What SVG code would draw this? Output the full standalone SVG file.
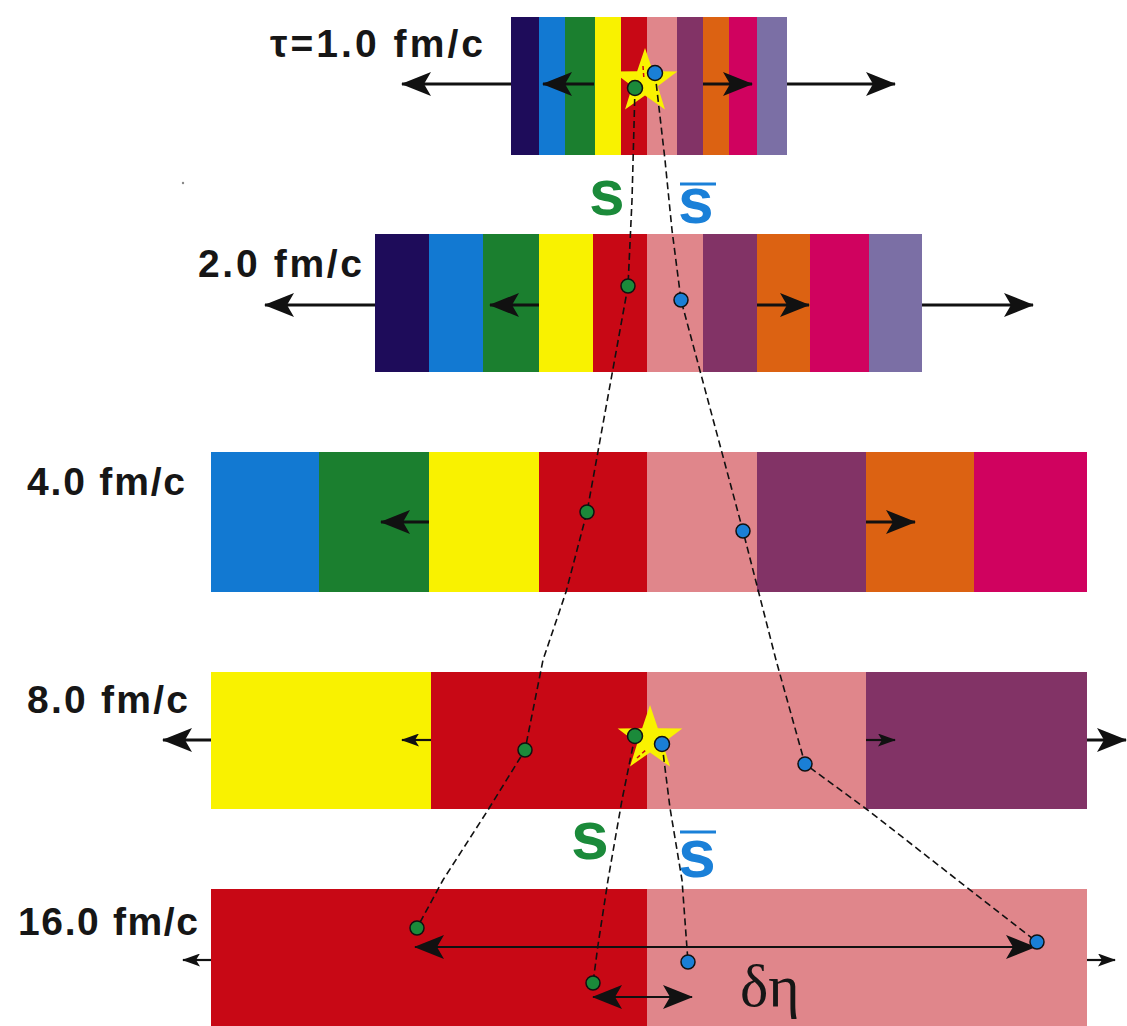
<svg xmlns="http://www.w3.org/2000/svg" width="1127" height="1026" viewBox="0 0 1127 1026">
<style>
.lbl{font-family:"Liberation Sans",Arial,sans-serif;font-size:39px;font-weight:bold;fill:#161616;}
.sg{font-family:"Liberation Sans",Arial,sans-serif;font-weight:bold;fill:#1b8a3a;}
.sb{font-family:"Liberation Sans",Arial,sans-serif;font-weight:bold;fill:#1a80d8;}
.arr{stroke:#111;stroke-width:3;fill:none;}
.arrt{stroke:#111;stroke-width:2.2;fill:none;}
.traj{stroke:#111;stroke-width:1.6;fill:none;stroke-dasharray:7 4;}
.dg{fill:#1b8a3a;stroke:#111;stroke-width:1.5;}
.db{fill:#1a7fd6;stroke:#111;stroke-width:1.5;}
.navy{fill:#1e0c5a}.blue{fill:#1279d2}.green{fill:#1b7f2f}.yellow{fill:#f9f200}
.red{fill:#c80815}.pink{fill:#e0868b}.purple{fill:#823366}.orange{fill:#dc6212}
.magenta{fill:#d0025f}.lav{fill:#7b6fa5}
</style>
<defs>
<marker id="ah" markerUnits="userSpaceOnUse" markerWidth="30" markerHeight="24" viewBox="0 0 30 24" refX="29" refY="12" orient="auto-start-reverse">
<path d="M0,0 L30,12 L0,24 L7,12 Z" fill="#111"/>
</marker>
<marker id="as" markerUnits="userSpaceOnUse" markerWidth="18" markerHeight="13" viewBox="0 0 18 13" refX="17" refY="6.5" orient="auto-start-reverse">
<path d="M0,0 L18,6.5 L0,13 L4,6.5 Z" fill="#111"/>
</marker>
<path id="star" d="M0,-34 L7.87,-10.84 L32.34,-10.51 L12.73,4.14 L19.98,27.5 L0,13.4 L-19.98,27.5 L-12.73,4.14 L-32.34,-10.51 L-7.87,-10.84 Z" fill="#f9f200"/>
</defs>

<g id="row1">
<rect class="navy" x="511" y="17" width="28" height="138"/>
<rect class="blue" x="539" y="17" width="26" height="138"/>
<rect class="green" x="565" y="17" width="30" height="138"/>
<rect class="yellow" x="595" y="17" width="26" height="138"/>
<rect class="red" x="621" y="17" width="26" height="138"/>
<rect class="pink" x="647" y="17" width="30" height="138"/>
<rect class="purple" x="677" y="17" width="26" height="138"/>
<rect class="orange" x="703" y="17" width="26" height="138"/>
<rect class="magenta" x="729" y="17" width="28" height="138"/>
<rect class="lav" x="757" y="17" width="30" height="138"/>
<text class="lbl" x="270" y="57" textLength="213">τ=1.0 fm/c</text>
</g>

<g id="row2">
<rect class="navy" x="375" y="234" width="54" height="138"/>
<rect class="blue" x="429" y="234" width="54" height="138"/>
<rect class="green" x="483" y="234" width="56" height="138"/>
<rect class="yellow" x="539" y="234" width="54" height="138"/>
<rect class="red" x="593" y="234" width="54" height="138"/>
<rect class="pink" x="647" y="234" width="56" height="138"/>
<rect class="purple" x="703" y="234" width="54" height="138"/>
<rect class="orange" x="757" y="234" width="53" height="138"/>
<rect class="magenta" x="810" y="234" width="59" height="138"/>
<rect class="lav" x="869" y="234" width="53" height="138"/>
<text class="lbl" x="198" y="277" textLength="164">2.0 fm/c</text>
</g>

<g id="row3">
<rect class="blue" x="211" y="452" width="108" height="140"/>
<rect class="green" x="319" y="452" width="110" height="140"/>
<rect class="yellow" x="429" y="452" width="110" height="140"/>
<rect class="red" x="539" y="452" width="108" height="140"/>
<rect class="pink" x="647" y="452" width="110" height="140"/>
<rect class="purple" x="757" y="452" width="109" height="140"/>
<rect class="orange" x="866" y="452" width="108" height="140"/>
<rect class="magenta" x="974" y="452" width="113" height="140"/>
<text class="lbl" x="27" y="495" textLength="158">4.0 fm/c</text>
</g>

<g id="row4">
<rect class="yellow" x="211" y="672" width="220" height="137"/>
<rect class="red" x="431" y="672" width="216" height="137"/>
<rect class="pink" x="647" y="672" width="219" height="137"/>
<rect class="purple" x="866" y="672" width="221" height="137"/>
<text class="lbl" x="27" y="713" textLength="161">8.0 fm/c</text>
</g>

<g id="row5">
<rect class="red" x="211" y="889" width="436" height="137"/>
<rect class="pink" x="647" y="889" width="440" height="137"/>
<text class="lbl" x="18" y="935" textLength="180">16.0 fm/c</text>
</g>

<g id="arrows">
<line class="arr" x1="511" y1="84" x2="402" y2="84" marker-end="url(#ah)"/>
<line class="arr" x1="594" y1="84" x2="543" y2="84" marker-end="url(#ah)"/>
<line class="arr" x1="703" y1="84" x2="752" y2="84" marker-end="url(#ah)"/>
<line class="arr" x1="787" y1="84" x2="895" y2="84" marker-end="url(#ah)"/>

<line class="arr" x1="375" y1="305" x2="265" y2="305" marker-end="url(#ah)"/>
<line class="arr" x1="539" y1="305" x2="490" y2="305" marker-end="url(#ah)"/>
<line class="arr" x1="757" y1="305" x2="809" y2="305" marker-end="url(#ah)"/>
<line class="arr" x1="922" y1="305" x2="1033" y2="305" marker-end="url(#ah)"/>

<line class="arr" x1="429" y1="522" x2="381" y2="522" marker-end="url(#ah)"/>
<line class="arr" x1="866" y1="522" x2="915" y2="522" marker-end="url(#ah)"/>

<line class="arr" x1="211" y1="740" x2="163" y2="740" marker-end="url(#ah)"/>
<line class="arrt" x1="431" y1="740" x2="402" y2="740" marker-end="url(#as)"/>
<line class="arrt" x1="866" y1="740" x2="895" y2="740" marker-end="url(#as)"/>
<line class="arr" x1="1087" y1="740" x2="1126" y2="740" marker-end="url(#ah)"/>

<line class="arrt" x1="211" y1="960" x2="183" y2="960" marker-end="url(#as)"/>
<line class="arrt" x1="1087" y1="960" x2="1115" y2="960" marker-end="url(#as)"/>
<line class="arrt" x1="415" y1="947" x2="1035" y2="947" marker-start="url(#ah)" marker-end="url(#ah)"/>
<line class="arrt" x1="593" y1="997" x2="692" y2="997" marker-start="url(#ah)" marker-end="url(#ah)"/>
</g>

<g id="stars">
<use href="#star" x="645" y="82"/>
<use href="#star" x="650" y="739"/>
</g>

<g id="trajectories">
<polyline class="traj" points="635,88 632,200 628,286 587,512 566,592 543,660 525,750 488,810 443,880 417,928"/>
<polyline class="traj" points="655,73 665,160 672,230 681,300 743,531 776,660 805,764 865,808 1037,942"/>
<polyline class="traj" points="635,736 622,800 608,880 598,945 593,983"/>
<polyline class="traj" points="662,744 670,808 682,880 688,962"/>
<line x1="637" y1="758" x2="647" y2="749" stroke="#c80815" stroke-width="1.5" stroke-dasharray="4 3"/>
<line x1="643" y1="66" x2="644" y2="80" stroke="#c80815" stroke-width="1.5" stroke-dasharray="4 3"/>
</g>

<g id="dots">
<circle class="dg" cx="635" cy="88" r="7.5"/>
<circle class="db" cx="655" cy="73" r="7.5"/>
<circle class="dg" cx="628" cy="286" r="7"/>
<circle class="db" cx="681" cy="300" r="7"/>
<circle class="dg" cx="587" cy="512" r="7"/>
<circle class="db" cx="743" cy="531" r="7"/>
<circle class="dg" cx="525" cy="750" r="7"/>
<circle class="db" cx="805" cy="764" r="7"/>
<circle class="dg" cx="635" cy="736" r="7.5"/>
<circle class="db" cx="662" cy="744" r="7.5"/>
<circle class="dg" cx="417" cy="928" r="7"/>
<circle class="dg" cx="593" cy="983" r="7"/>
<circle class="db" cx="688" cy="962" r="7"/>
<circle class="db" cx="1037" cy="942" r="7"/>
</g>

<g id="labels">
<text class="sg" x="589" y="215" font-size="64">s</text>
<text class="sb" x="678" y="223" font-size="64">s</text>
<line x1="680" y1="184" x2="716" y2="184" stroke="#1a80d8" stroke-width="3"/>
<text class="sg" x="571" y="859" font-size="68">s</text>
<text class="sb" x="678" y="877" font-size="68">s</text>
<line x1="680" y1="832" x2="716" y2="832" stroke="#1a80d8" stroke-width="3"/>
<text x="740" y="1006" font-family="'Liberation Serif','Times New Roman',serif" font-size="60" fill="#161616">δη</text>
<circle cx="183" cy="183" r="1.2" fill="#888"/>
</g>
</svg>
